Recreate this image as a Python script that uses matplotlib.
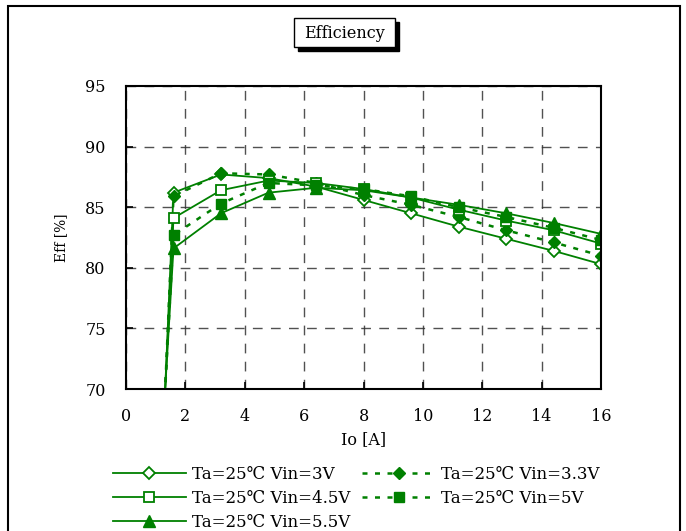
import matplotlib
matplotlib.use("Agg")
import matplotlib.pyplot as plt
from matplotlib.patches import Rectangle

plt.rcParams['font.family'] = ['DejaVu Serif', 'DejaVu Sans', 'Noto Sans CJK SC']

io = [0.8, 1.6, 3.2, 4.8, 6.4, 8.0, 9.6, 11.2, 12.8, 14.4, 16.0]
eff_3v = [39.9, 86.2, 87.7, 87.4, 86.7, 85.6, 84.5, 83.4, 82.4, 81.4, 80.3]
eff_3v3 = [40.5, 85.9, 87.8, 87.7, 87.0, 86.0, 85.2, 84.2, 83.1, 82.1, 81.0]
eff_4v5 = [43.8, 84.1, 86.4, 87.2, 87.0, 86.5, 85.8, 84.8, 83.9, 83.1, 82.0]
eff_5v = [46.4, 82.7, 85.3, 87.0, 86.8, 86.5, 85.9, 85.0, 84.2, 83.3, 82.3]
eff_5v5 = [48.5, 81.6, 84.5, 86.2, 86.6, 86.4, 85.8, 85.2, 84.5, 83.7, 82.8]

labels = ["Ta=25℃ Vin=3V", "Ta=25℃ Vin=3.3V", "Ta=25℃ Vin=4.5V",
          "Ta=25℃ Vin=5V", "Ta=25℃ Vin=5.5V"]
xticks = [0, 2, 4, 6, 8, 10, 12, 14, 16]
yticks = [70, 75, 80, 85, 90, 95]

G = '#008000'
W, H = 686, 531
fig = plt.figure(figsize=(W/100, H/100), dpi=100)

# outer frame
fig.patches.append(Rectangle((8/W, -0.05), 672/W, 1.05 - 6/H, transform=fig.transFigure,
                             fill=False, edgecolor='black', linewidth=1.5, zorder=0))

ax = fig.add_axes([126/W, 1-389/H, 475/W, 303/H])

dot = (0, (2, 3))
h1, = ax.plot(io, eff_3v, color=G, lw=1.3, marker='D', ms=6, mfc='white', mec=G, mew=1.3)
h2, = ax.plot(io, eff_3v3, color=G, lw=1.8, ls=dot, marker='D', ms=6.5, mfc=G, mec=G)
h3, = ax.plot(io, eff_4v5, color=G, lw=1.3, marker='s', ms=7, mfc='white', mec=G, mew=1.3)
h4, = ax.plot(io, eff_5v, color=G, lw=1.8, ls=dot, marker='s', ms=7, mfc=G, mec=G)
h5, = ax.plot(io, eff_5v5, color=G, lw=1.3, marker='^', ms=8, mfc=G, mec=G)

ax.set_xlim(0, 16)
ax.set_ylim(70, 95)
ax.set_xticks(xticks)
ax.set_yticks(yticks)
ax.tick_params(axis='both', direction='in', labelsize=11.5, length=5, width=1.2)
ax.tick_params(axis='x', pad=14)
ax.tick_params(axis='y', pad=22)
for lab in ax.get_yticklabels():
    lab.set_horizontalalignment('center')
ax.grid(True, color='#333333', ls=(0, (7, 6)), lw=1.0, alpha=0.85)
for s in ax.spines.values():
    s.set_linewidth(1.5)
ax.set_xlabel("Io [A]", fontsize=11.5, labelpad=4)
ax.set_ylabel("Eff [%]", fontsize=10, labelpad=12)

# title box with shadow
fig.patches.append(Rectangle((298/W, 1-51/H), 101/W, 29/H, transform=fig.transFigure,
                             facecolor='black', edgecolor='black', zorder=1))
fig.patches.append(Rectangle((294/W, 1-47/H), 101/W, 29/H, transform=fig.transFigure,
                             facecolor='white', edgecolor='black', lw=1.0, zorder=2))
fig.text(344.5/W, 1-33/H, "Efficiency", ha='center', va='center', fontsize=11.5, zorder=3)

handles = [h1, h3, h5, h2, h4]
labs = [labels[0], labels[2], labels[4], labels[1], labels[3]]
fig.legend(handles, labs, loc='upper left', bbox_to_anchor=(106/W, 1-459/H), ncol=2,
           frameon=False, fontsize=12, handlelength=4.4, columnspacing=0.7,
           labelspacing=0.42, handletextpad=0.35, borderaxespad=0)

fig.savefig("out.png", dpi=100)
